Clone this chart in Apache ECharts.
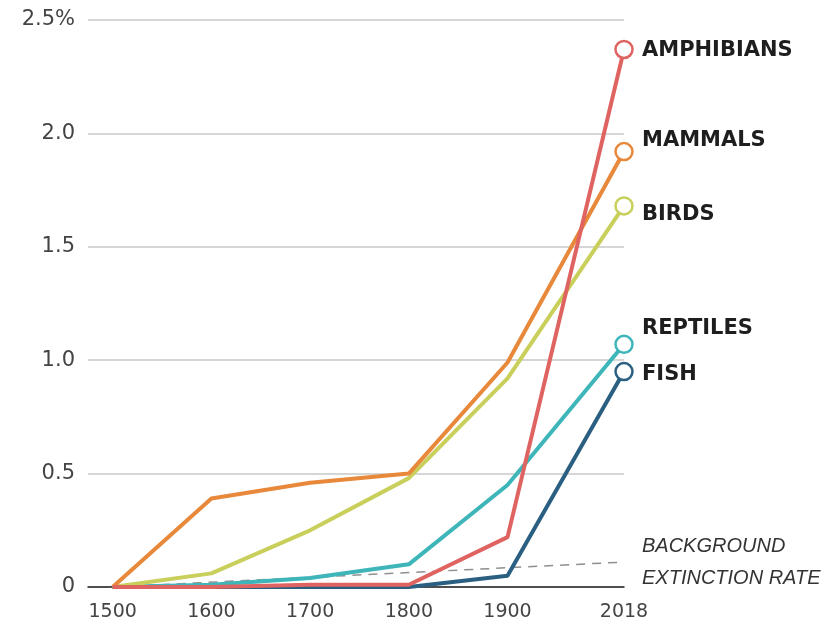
<!DOCTYPE html>
<html><head><meta charset="utf-8">
<script src="https://cdn.jsdelivr.net/npm/echarts@6/dist/echarts.min.js"></script>
<style>html,body{margin:0;padding:0;background:#fff}#c{width:840px;height:630px}</style>
</head><body><div id="c"></div>
<script>
const years = [1500, 1600, 1700, 1800, 1900, 2018];
const xTickLabels = [1500, 1600, 1700, 1800, 1900, 2018];
const yTicks = [0, 0.5, 1.0, 1.5, 2.0, 2.5];
const fish = [0, 0, 0, 0, 0.05, 0.95];
const reptiles = [0, 0.01, 0.04, 0.10, 0.45, 1.07];
const birds = [0, 0.06, 0.25, 0.48, 0.92, 1.68];
const mammals = [0, 0.39, 0.46, 0.50, 0.99, 1.92];
const amphibians = [0, 0, 0.01, 0.01, 0.22, 2.37];
const backgroundYears = [1500, 2018];
const backgroundRate = [0, 0.11];

const font = 'DejaVu Sans';
function mk(name, vals, color, offsetY) {
  return {
    name: name, type: 'line', z: 3,
    data: years.map((y, i) => [y, vals[i]]),
    symbol: (v, p) => p.dataIndex === years.length - 1 ? 'circle' : 'none',
    showAllSymbol: true,
    symbolSize: 17,
    lineStyle: { color: color, width: 4 },
    itemStyle: { color: '#fff', borderColor: color, borderWidth: 2.5 },
    emphasis: { disabled: true },
    endLabel: {
      show: true, formatter: name, distance: 18, offset: [0, offsetY],
      fontFamily: font, fontWeight: 'bold', fontSize: 21, color: '#1e1e1e'
    }
  };
}
const chart = echarts.init(document.getElementById('c'));
chart.setOption({
  animation: false,
  grid: { left: 88, right: 216, top: 20, bottom: 43 },
  xAxis: {
    type: 'value', min: 1475, max: 2018,
    splitLine: { show: false },
    axisLine: { show: true, lineStyle: { color: '#222', width: 1.5 } },
    axisTick: { show: false },
    axisLabel: { customValues: xTickLabels, formatter: v => String(v), fontFamily: font, fontSize: 19, color: '#444', margin: 16 }
  },
  yAxis: {
    type: 'value', min: 0, max: 2.5, interval: 0.5,
    axisLine: { show: false }, axisTick: { show: false },
    splitLine: { lineStyle: { color: '#c8c8c8', width: 1.5 } },
    axisLabel: {
      fontFamily: font, fontSize: 21, color: '#444', margin: 13,
      formatter: v => v === 2.5 ? '2.5%' : (v === 0 ? '0' : v.toFixed(1))
    }
  },
  series: [
    {
      name: 'background', type: 'line', z: 2,
      data: backgroundYears.map((y, i) => [y, backgroundRate[i]]),
      symbol: 'none',
      lineStyle: { color: '#8f8f8f', width: 1.5, type: [9, 7] },
      emphasis: { disabled: true },
      endLabel: {
        show: true, formatter: 'BACKGROUND\nEXTINCTION RATE', distance: 18,
        fontFamily: 'Liberation Sans', fontStyle: 'italic', fontSize: 20, lineHeight: 32, color: '#333', offset: [0, 0]
      }
    },
    mk('FISH', fish, '#2a5f82', 3),
    mk('REPTILES', reptiles, '#3db5b9', -16),
    mk('BIRDS', birds, '#c8cf5a', 9),
    mk('MAMMALS', mammals, '#e8883a', -11),
    mk('AMPHIBIANS', amphibians, '#df6461', 1)
  ]
});
</script></body></html>
